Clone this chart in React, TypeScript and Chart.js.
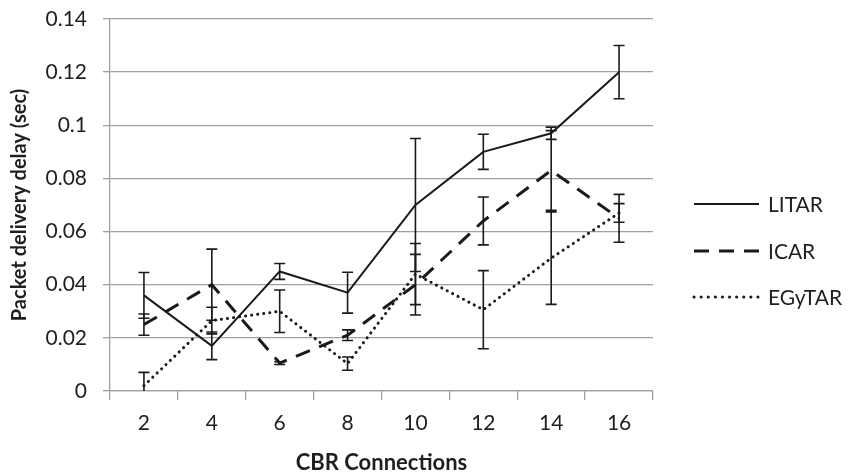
import React, { useEffect, useRef } from "react";
import { Chart, registerables } from "chart.js";

Chart.register(...registerables);

const categories = ["2", "4", "6", "8", "10", "12", "14", "16"];
const litar = [0.036, 0.017, 0.045, 0.037, 0.070, 0.090, 0.097, 0.120];
const litarErr = [0.0086, 0.0052, 0.003, 0.0077, 0.025, 0.0066, 0.0023, 0.010];
const icar = [0.025, 0.040, 0.0105, 0.021, 0.040, 0.064, 0.083, 0.065];
const icarErr = [0.004, 0.0134, 0.0005, 0.002, 0.0114, 0.009, 0.015, 0.009];
const egytar = [0.002, 0.0265, 0.030, 0.0103, 0.044, 0.0306, 0.050, 0.067];
const egytarErr = [0.005, 0.005, 0.008, 0.0025, 0.0115, 0.0147, 0.0174, 0.0035];
const seriesNames = ["LITAR", "ICAR", "EGyTAR"];
const yTicks = [0, 0.02, 0.04, 0.06, 0.08, 0.1, 0.12, 0.14];

const TEXT = "#1f1f1f";
const GRID = "#a0a0a0";
const FONT = "Lato, 'Open Sans', sans-serif";

const errors = [litarErr, icarErr, egytarErr];

const errorBarPlugin = {
  id: "errorBars",
  afterDatasetsDraw(chart: any) {
    const { ctx, chartArea } = chart;
    const xs = chart.scales.x;
    const ys = chart.scales.y;
    ctx.save();
    ctx.beginPath();
    ctx.rect(chartArea.left, chartArea.top, chartArea.right - chartArea.left, chartArea.bottom - chartArea.top);
    ctx.clip();
    ctx.strokeStyle = "#1a1a1a";
    ctx.lineWidth = 1.6;
    ctx.setLineDash([]);
    chart.data.datasets.forEach((ds: any, di: number) => {
      ds.data.forEach((v: number, i: number) => {
        const e = errors[di][i];
        const x = xs.getPixelForValue(i);
        const yt = ys.getPixelForValue(v + e);
        const yb = ys.getPixelForValue(v - e);
        ctx.beginPath();
        ctx.moveTo(x, yt);
        ctx.lineTo(x, yb);
        ctx.moveTo(x - 5.5, yt);
        ctx.lineTo(x + 5.5, yt);
        ctx.moveTo(x - 5.5, yb);
        ctx.lineTo(x + 5.5, yb);
        ctx.stroke();
      });
    });
    ctx.restore();
  },
};

const legendPlugin = {
  id: "customLegend",
  afterDraw(chart: any) {
    const { ctx } = chart;
    const ys = [204, 251, 297];
    ctx.save();
    chart.data.datasets.forEach((ds: any, i: number) => {
      const y = ys[i];
      ctx.beginPath();
      ctx.strokeStyle = ds.borderColor;
      ctx.lineWidth = ds.borderWidth;
      ctx.lineCap = ds.borderCapStyle || "butt";
      ctx.setLineDash(ds.legendDash || []);
      ctx.moveTo(694, y);
      ctx.lineTo(759, y);
      ctx.stroke();
      ctx.setLineDash([]);
      ctx.fillStyle = TEXT;
      ctx.font = `21px ${FONT}`;
      ctx.textAlign = "left";
      ctx.textBaseline = "middle";
      ctx.fillText(ds.label, 768, y + 1);
    });
    ctx.restore();
  },
};

export default function App() {
  const ref = useRef<HTMLCanvasElement>(null);
  useEffect(() => {
    document.body.style.margin = "0";
    const chart = new Chart(ref.current as HTMLCanvasElement, {
      type: "line",
      data: {
        labels: categories,
        datasets: [
          {
            label: seriesNames[0],
            data: litar,
            borderColor: "#1a1a1a",
            borderWidth: 2,
            pointRadius: 0,
            tension: 0,
            fill: false,
          },
          {
            label: seriesNames[1],
            data: icar,
            borderColor: "#1a1a1a",
            borderWidth: 3,
            borderDash: [15, 10],
            legendDash: [15, 10],
            pointRadius: 0,
            tension: 0,
            fill: false,
          } as any,
          {
            label: seriesNames[2],
            data: egytar,
            borderColor: "#1a1a1a",
            borderWidth: 3,
            borderDash: [0.1, 6],
            legendDash: [0.1, 7],
            borderCapStyle: "round",
            pointRadius: 0,
            tension: 0,
            fill: false,
          } as any,
        ],
      },
      options: {
        animation: false,
        responsive: false,
        layout: { padding: { top: 19, right: 196, left: 0, bottom: 0 } },
        plugins: { legend: { display: false }, tooltip: { enabled: false } },
        scales: {
          x: {
            offset: true,
            grid: {
              offset: true,
              drawOnChartArea: false,
              drawTicks: true,
              tickLength: 9,
              color: GRID,
              lineWidth: 1.3,
            },
            border: { color: GRID, width: 1.3 },
            ticks: { color: TEXT, font: { family: FONT, size: 21 }, padding: 11 },
            title: {
              display: true,
              text: "CBR Connections",
              color: TEXT,
              font: { family: FONT, size: 22, weight: "bold" },
              padding: { top: 4, bottom: 0 },
            },
            afterFit(scale: any) {
              scale.height = 85;
              scale.paddingLeft = 0;
              scale.paddingRight = 0;
            },
          },
          y: {
            min: 0,
            max: 0.14,
            afterBuildTicks(scale: any) {
              scale.ticks = yTicks.map((v) => ({ value: v }));
            },
            grid: { color: GRID, tickLength: 7, lineWidth: 1.3 },
            border: { color: GRID, width: 1.3 },
            ticks: {
              color: TEXT,
              font: { family: FONT, size: 21 },
              padding: 16,
              callback: (v: any) => String(Number(Number(v).toFixed(2))),
            },
            title: {
              display: true,
              text: "Packet delivery delay (sec)",
              color: TEXT,
              font: { family: FONT, size: 20, weight: "bold" },
              padding: { top: 8, bottom: 0 },
            },
            afterFit(scale: any) {
              scale.width = 110;
              scale.paddingTop = 0;
              scale.paddingBottom = 0;
            },
          },
        },
      },
      plugins: [errorBarPlugin, legendPlugin],
    });
    return () => chart.destroy();
  }, []);
  return (
    <div style={{ position: "absolute", left: 0, top: 0, width: 849, height: 476 }}>
      <canvas ref={ref} width={849} height={476} />
    </div>
  );
}
